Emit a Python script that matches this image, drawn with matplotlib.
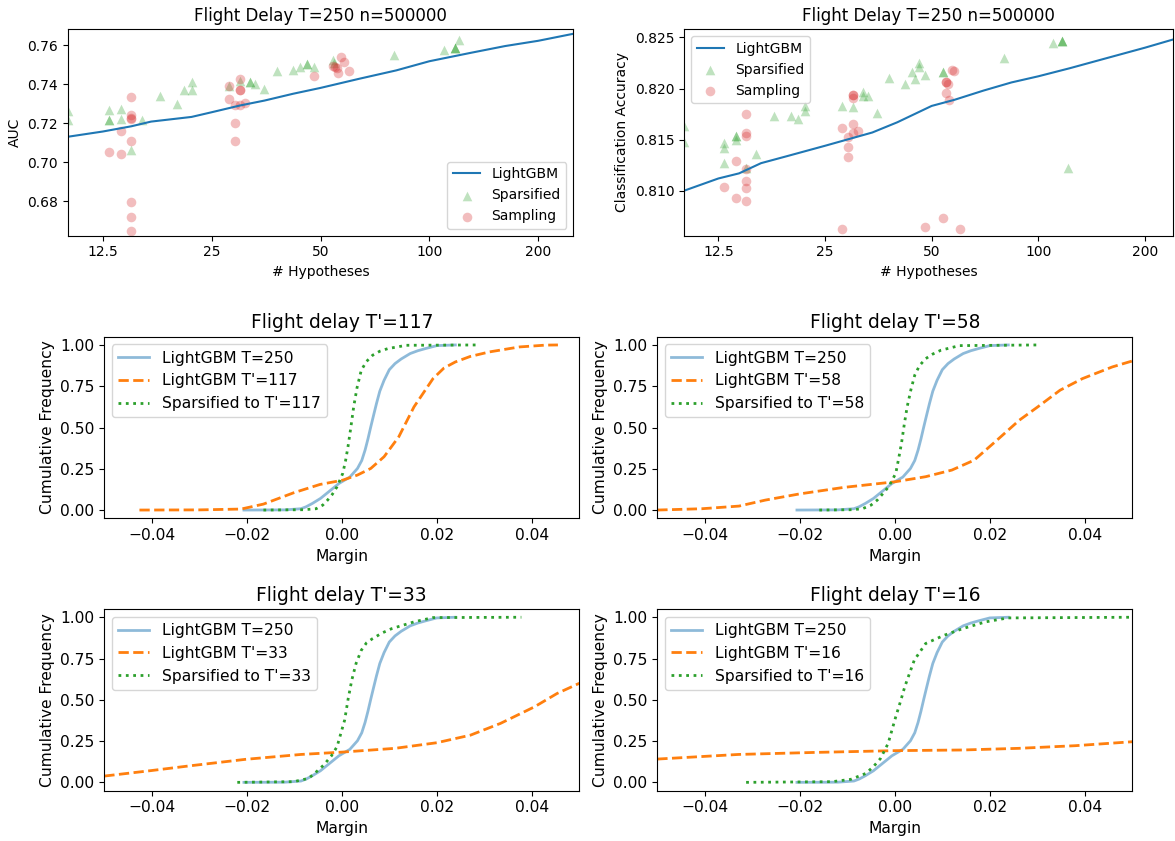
import numpy as np
import matplotlib
matplotlib.use("Agg")
import matplotlib.pyplot as plt
from matplotlib.ticker import NullLocator

# ---- top row: metric vs number of hypotheses ----
xticks_hyp = [12.5, 25, 50, 100, 200]
xtick_labels_hyp = ["12.5", "25", "50", "100", "200"]

lgbm_auc_T = [10, 12.5, 15, 17, 22, 25, 30, 35, 42, 50, 64, 81, 100, 130, 162, 200, 250]
lgbm_auc = [.7131, .7158, .7185, .7209, .7233, .7257, .7292, .7317, .7352, .7382,
            .7429, .7472, .7519, .7562, .7597, .7624, .7660]

spars_auc_T = [10, 10, 13, 13, 13, 14, 14, 15, 16, 18, 20, 21, 22, 22, 28, 30, 32, 32, 33, 35,
               38, 42, 44, 46, 46, 48, 54, 54.5, 80, 110, 118, 118, 118, 121]
spars_auc = [.7264, .7215, .7269, .7218, .7218, .7275, .7223, .7064, .7218, .7341, .7300, .7369,
             .7410, .7369, .7393, .7415, .7410, .7410, .7403, .7376, .7468, .7472, .7489, .7506,
             .7506, .7487, .7526, .7509, .7549, .7576, .7588, .7588, .7588, .7627]

samp_auc_T = [13, 14, 14, 15, 15, 15, 15, 15, 15, 15, 15, 28, 28, 29, 29, 29, 30, 30, 30, 30, 31,
              48, 54, 55, 55.4, 56, 57, 58, 60]
samp_auc = [.7052, .7161, .7043, .7336, .7244, .7230, .7221, .7110, .6798, .6721, .6649, .7394,
            .7326, .7293, .7204, .7107, .7427, .7372, .7372, .7293, .7304, .7444, .7496, .7490,
            .7484, .7458, .7543, .7514, .7468]

lgbm_acc_T = [10, 12.5, 14.3, 16.5, 19.6, 25, 29.5, 34, 40, 50, 58, 70, 84, 100, 123, 153, 200, 240]
lgbm_acc = [.8100, .8112, .8117, .8127, .8134, .8144, .8151, .8157, .8167, .8183, .8189, .8198,
            .8206, .8212, .8220, .8229, .8240, .8248]

spars_acc_T = [10, 10, 13, 13, 13, 14, 14, 14, 15, 16, 18, 20, 21, 22, 22, 28, 30, 32, 32, 33, 35,
               38, 42, 44, 45, 46, 46, 48, 54, 54, 80, 110, 117, 117, 117, 121]
spars_acc = [.8163, .8148, .8147, .8142, .8127, .8154, .8154, .8150, .8122, .8136, .8173, .8173,
             .8170, .8178, .8183, .8183, .8182, .8197, .8193, .8193, .8176, .8210, .8204, .8216,
             .8209, .8225, .8221, .8213, .8216, .8216, .8230, .8245, .8247, .8247, .8247, .8122]

samp_acc_T = [13, 14, 14, 15, 15, 15, 15, 15, 15, 15, 28, 28, 29, 29, 29, 30, 30, 30, 30, 30, 31,
              48, 54, 55, 55, 55, 55.5, 56, 57, 58, 60]
samp_acc = [.8104, .8129, .8093, .8175, .8157, .8154, .8121, .8110, .8103, .8090, .8161, .8063,
            .8153, .8143, .8133, .8194, .8194, .8191, .8165, .8157, .8158, .8065, .8073, .8196,
            .8206, .8206, .8204, .8189, .8218, .8217, .8063]

# ---- bottom rows: margin CDFs ----
full_x = [-0.0206, -0.0120, -0.0086, -0.0075, -0.0062, -0.0045, -0.0030, -0.0006, 0.0017, 0.0033,
          0.0042, 0.0049, 0.0055, 0.0061, 0.0067, 0.0073, 0.0080, 0.0089, 0.0100, 0.0112, 0.0125,
          0.0144, 0.0160, 0.0176, 0.0200, 0.0239]
full_y = [0.0, 0.001, 0.008, 0.02, 0.04, 0.07, 0.105, 0.161, 0.20, 0.252, 0.30, 0.363, 0.43,
          0.504, 0.575, 0.645, 0.72, 0.786, 0.85, 0.887, 0.915, 0.948, 0.965, 0.978, 0.996, 1.0]

panels = [
    {"tp": 117,
     "lgb_x": [-0.0426, -0.0300, -0.0212, -0.0165, -0.0101, -0.0046, 0.0002, 0.0033, 0.0061, 0.0089,
               0.0120, 0.0152, 0.0192, 0.0215, 0.0239, 0.0270, 0.0311, 0.0374, 0.0429, 0.0455],
     "lgb_y": [0.0, 0.001, 0.006, 0.036, 0.105, 0.155, 0.181, 0.212, 0.252, 0.323, 0.444, 0.625,
               0.796, 0.86, 0.897, 0.93, 0.958, 0.988, 0.999, 1.0],
     "sp_x": [-0.0165, -0.0080, -0.0054, -0.0040, -0.0030, -0.0020, -0.0010, 0.0002, 0.0008, 0.0013,
              0.0019, 0.0025, 0.0032, 0.0041, 0.0052, 0.0065, 0.0080, 0.0097, 0.0136, 0.0287],
     "sp_y": [0.0, 0.002, 0.008, 0.03, 0.06, 0.095, 0.141, 0.222, 0.30, 0.383, 0.50, 0.625, 0.74,
              0.847, 0.90, 0.938, 0.962, 0.978, 0.998, 1.0]},
    {"tp": 58,
     "lgb_x": [-0.0500, -0.0406, -0.0328, -0.0273, -0.0202, -0.0108, 0.0, 0.0065, 0.0120, 0.0167,
               0.0215, 0.0262, 0.0301, 0.0348, 0.0395, 0.0458, 0.0500],
     "lgb_y": [0.0, 0.008, 0.024, 0.06, 0.097, 0.137, 0.171, 0.202, 0.242, 0.302, 0.423, 0.544,
               0.625, 0.726, 0.796, 0.867, 0.903],
     "sp_x": [-0.0159, -0.0090, -0.0068, -0.0050, -0.0037, -0.0025, -0.0013, 0.0002, 0.0008, 0.0014,
              0.0020, 0.0026, 0.0034, 0.0042, 0.0052, 0.0065, 0.0080, 0.0097, 0.0136, 0.0301],
     "sp_y": [0.0, 0.002, 0.008, 0.03, 0.06, 0.10, 0.141, 0.222, 0.31, 0.403, 0.52, 0.625, 0.73,
              0.817, 0.875, 0.917, 0.945, 0.968, 0.996, 1.0]},
    {"tp": 33,
     "lgb_x": [-0.0500, -0.0402, -0.0323, -0.0204, -0.0086, 0.0, 0.0112, 0.0200, 0.0271, 0.0334,
               0.0406, 0.0453, 0.0500],
     "lgb_y": [0.038, 0.071, 0.099, 0.139, 0.169, 0.183, 0.206, 0.240, 0.286, 0.357, 0.458, 0.538,
               0.600],
     "sp_x": [-0.0220, -0.0101, -0.0070, -0.0055, -0.0038, -0.0022, -0.0010, 0.0006, 0.0013, 0.0021,
              0.0030, 0.0041, 0.0052, 0.0065, 0.0085, 0.0105, 0.0152, 0.0192, 0.0378],
     "sp_y": [0.0, 0.004, 0.024, 0.06, 0.105, 0.16, 0.216, 0.377, 0.50, 0.619, 0.72, 0.80, 0.845,
              0.871, 0.905, 0.931, 0.972, 0.998, 1.0]},
    {"tp": 16,
     "lgb_x": [-0.0500, -0.0329, -0.0172, 0.0, 0.0143, 0.0261, 0.0380, 0.0500],
     "lgb_y": [0.141, 0.169, 0.181, 0.192, 0.196, 0.206, 0.222, 0.246],
     "sp_x": [-0.0313, -0.0132, -0.0093, -0.0061, -0.0045, -0.0030, -0.0014, 0.0002, 0.0012, 0.0021,
              0.0031, 0.0041, 0.0065, 0.0104, 0.0143, 0.0191, 0.0238, 0.0498],
     "sp_y": [0.0, 0.004, 0.018, 0.054, 0.095, 0.145, 0.236, 0.397, 0.49, 0.579, 0.66, 0.74, 0.841,
              0.891, 0.931, 0.972, 0.996, 1.0]},
]

W, H = 1175, 841
fig = plt.figure(figsize=(W / 100, H / 100), dpi=100)


def px_axes(x0, x1, y0, y1):
    return fig.add_axes([x0 / W, 1 - y1 / H, (x1 - x0) / W, (y1 - y0) / H])


def top_panel(ax, lT, lv, sT, sv, pT, pv, ylabel, xmax, loc):
    ax.plot(lT, lv, color="tab:blue", lw=1.5, label="LightGBM")
    ax.scatter(sT, sv, marker="^", s=48, color="tab:green", alpha=0.3, linewidths=0,
               label="Sparsified")
    ax.scatter(pT, pv, marker="o", s=48, color="tab:red", alpha=0.3, linewidths=0,
               label="Sampling")
    ax.set_xscale("log")
    ax.set_xlim(10, xmax)
    ax.set_xticks(xticks_hyp)
    ax.set_xticklabels(xtick_labels_hyp)
    ax.xaxis.set_minor_locator(NullLocator())
    ax.set_xlabel("# Hypotheses", fontsize=10)
    ax.set_ylabel(ylabel, fontsize=10)
    ax.set_title("Flight Delay T=250 n=500000", fontsize=12)
    ax.tick_params(labelsize=10)
    ax.legend(loc=loc, fontsize=10)


ax1 = px_axes(67.7, 573.3, 29.3, 235.7)
top_panel(ax1, lgbm_auc_T, lgbm_auc, spars_auc_T, spars_auc, samp_auc_T, samp_auc,
          "AUC", 250, "lower right")
ax1.set_ylim(0.6623, 0.7683)
ax1.set_yticks([0.68, 0.70, 0.72, 0.74, 0.76])
ax1.set_yticklabels(["0.68", "0.70", "0.72", "0.74", "0.76"])

ax2 = px_axes(684, 1173, 29.3, 235.7)
top_panel(ax2, lgbm_acc_T, lgbm_acc, spars_acc_T, spars_acc, samp_acc_T, samp_acc,
          "Classification Accuracy", 240, "upper left")
ax2.set_ylim(0.8056, 0.8258)
ax2.set_yticks([0.810, 0.815, 0.820, 0.825])
ax2.set_yticklabels(["0.810", "0.815", "0.820", "0.825"])

fs = 11.2
boxes = [(104.3, 579.3, 336.7, 518.3), (657.3, 1132.3, 336.7, 518.3),
         (104.3, 579.3, 609, 790.6), (657.3, 1132.3, 609, 790.6)]
for p, b in zip(panels, boxes):
    ax = px_axes(*b)
    tp = p["tp"]
    ax.plot(full_x, full_y, color="tab:blue", alpha=0.5, lw=2, label="LightGBM T=250")
    ax.plot(p["lgb_x"], p["lgb_y"], color="tab:orange", ls="--", lw=2,
            label="LightGBM T'=%d" % tp)
    ax.plot(p["sp_x"], p["sp_y"], color="tab:green", ls=":", lw=2,
            label="Sparsified to T'=%d" % tp)
    ax.set_xlim(-0.05, 0.05)
    ax.set_ylim(-0.05, 1.05)
    ax.set_xticks([-0.04, -0.02, 0.0, 0.02, 0.04])
    ax.set_yticks([0.0, 0.25, 0.5, 0.75, 1.0])
    ax.set_yticklabels(["0.00", "0.25", "0.50", "0.75", "1.00"])
    ax.tick_params(labelsize=fs)
    ax.set_xlabel("Margin", fontsize=fs)
    ax.set_ylabel("Cumulative Frequency", fontsize=fs)
    ax.set_title("Flight delay T'=%d" % tp, fontsize=13.4)
    ax.legend(loc="upper left", fontsize=fs)

fig.savefig("out.png", dpi=100)
